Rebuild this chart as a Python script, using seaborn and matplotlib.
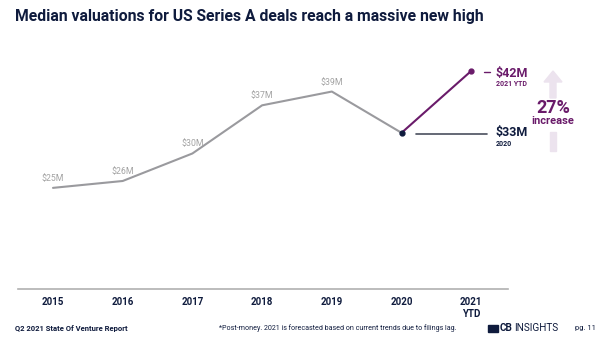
import matplotlib
matplotlib.use("Agg")
import matplotlib.pyplot as plt
import seaborn as sns
import pandas as pd
from matplotlib.patches import FancyArrow, Rectangle

sns.set_theme(style="white")
plt.rcParams['font.family'] = ['Roboto', 'DejaVu Sans']

years = ["2015", "2016", "2017", "2018", "2019", "2020", "2021\nYTD"]
values = [25, 26, 30, 37, 39, 33, 42]
labels = ["$25M", "$26M", "$30M", "$37M", "$39M", "$33M", "$42M"]

NAVY = "#0f1b3d"
PURPLE = "#6a1b6a"
GRAY = "#9a9a9e"
LABEL_GRAY = "#a3a3a3"

df = pd.DataFrame({"x": list(range(len(years))), "v": values})
hist = df.iloc[:6]
recent = df.iloc[5:]

fig = plt.figure(figsize=(6, 3.42), dpi=100)
ax = fig.add_axes([0.03, 1 - 289/342, 0.817, (289 - 50)/342])

sns.lineplot(data=hist, x="x", y="v", ax=ax, color=GRAY, linewidth=1.5)
sns.lineplot(data=recent, x="x", y="v", ax=ax, color=PURPLE, linewidth=1.5)
ax.plot([5], [values[5]], 'o', color=NAVY, markersize=3.5, zorder=5)
ax.plot([6], [values[6]], 'o', color=PURPLE, markersize=3.5, zorder=5)

ax.set_xlim(-0.502, 6.53)
ax.set_ylim(10.3, 45.04)

for i in range(5):
    ax.text(i, values[i] + 0.7, labels[i], ha="center", va="bottom",
            fontsize=6.3, color=LABEL_GRAY)

ax.set_xticks(range(len(years)))
ax.set_xticklabels(years, fontsize=7, fontweight="bold", color=NAVY, linespacing=1.2)
ax.tick_params(axis="x", length=0, pad=6)
ax.set_yticks([])
ax.set_xlabel("")
ax.set_ylabel("")
for s in ["top", "right", "left"]:
    ax.spines[s].set_visible(False)
ax.spines["bottom"].set_color("#b0b0b0")
ax.spines["bottom"].set_linewidth(1.2)

def fx(px):
    return px / 600
def fy(py):
    return 1 - py / 342

fig.add_artist(plt.Line2D([fx(484), fx(490)], [fy(72), fy(72)], color=PURPLE, linewidth=1))
fig.add_artist(plt.Line2D([fx(416), fx(487)], [fy(134), fy(134)], color="#4a4f5e", linewidth=1.2))
fig.text(fx(496), fy(74), "$42M", fontsize=9, fontweight="bold", color=PURPLE, va="center", ha="left")
fig.text(fx(496), fy(84.5), "2021 YTD", fontsize=5, fontweight="bold", color=PURPLE, va="center", ha="left")
fig.text(fx(496), fy(133), "$33M", fontsize=9, fontweight="bold", color=NAVY, va="center", ha="left")
fig.text(fx(496), fy(144.5), "2020", fontsize=5, fontweight="bold", color=NAVY, va="center", ha="left")

ARROW = "#ece3ee"
fig.add_artist(FancyArrow(fx(553), fy(98), 0, fy(71) - fy(98), width=6/600, head_width=18/600,
                          head_length=11/342, length_includes_head=True, color=ARROW,
                          transform=fig.transFigure))
fig.add_artist(Rectangle((fx(550), fy(151)), 6/600, (151 - 132)/342, color=ARROW,
                         transform=fig.transFigure))
fig.text(fx(553), fy(108), "27%", fontsize=13, fontweight="bold", color=PURPLE, ha="center", va="center")
fig.text(fx(553), fy(121.5), "increase", fontsize=8, fontweight="bold", color=PURPLE, ha="center", va="center")

fig.text(fx(15), fy(17), "Median valuations for US Series A deals reach a massive new high",
         fontsize=11.3, fontweight="bold", color=NAVY, ha="left", va="center")

fig.text(fx(15), fy(328), "Q2 2021 State Of Venture Report", fontsize=5.5, fontweight="bold",
         color=NAVY, ha="left", va="center")
fig.text(fx(338), fy(328), "*Post-money. 2021 is forecasted based on current trends due to filings lag.",
         fontsize=5.1, color=NAVY, ha="center", va="center")
fig.add_artist(Rectangle((fx(488), fy(332)), 10/600, 7/342, color=NAVY, transform=fig.transFigure))
fig.text(fx(500), fy(328), "CB", fontsize=7.2, fontweight="bold", color=NAVY, ha="left", va="center")
fig.text(fx(514), fy(328), "INSIGHTS", fontsize=7.2, color=NAVY, ha="left", va="center")
fig.text(fx(575), fy(328), "pg. 11", fontsize=5.5, color=NAVY, ha="left", va="center")

fig.savefig("out.png", dpi=100, facecolor="white")
